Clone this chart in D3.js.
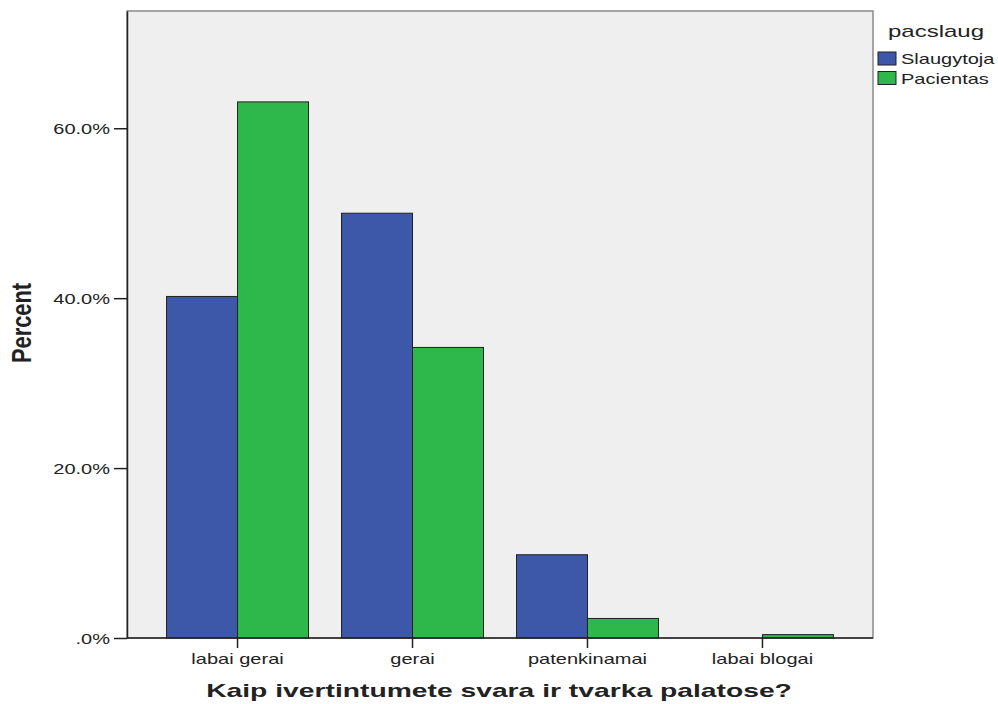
<!DOCTYPE html>
<html>
<head>
<meta charset="utf-8">
<script src="https://cdn.jsdelivr.net/npm/d3@7"></script>
<style>
  body { margin: 0; background: #fff; }
  text { font-family: "Liberation Sans", Arial, sans-serif; fill: #222; }
</style>
</head>
<body>
<div id="vis"></div>
<script>
const categories = ['labai gerai', 'gerai', 'patenkinamai', 'labai blogai'];
const groups = ['Slaugytoja', 'Pacientas'];
const slaugytoja = [40.2, 50.0, 9.8, 0];
const pacientas = [63.1, 34.2, 2.3, 0.4];
const yTicks = [0, 20, 40, 60];
const colors = ['#3d57a9', '#2eb74a'];

const W = 998, H = 704;
const plot = { left: 127, right: 873, top: 11, bottom: 638 };
const sx = 1.43; // text in the reference is stretched sideways

const data = categories.map((c, i) => ({ cat: c, values: [slaugytoja[i], pacientas[i]] }));

const svg = d3.select('#vis').append('svg')
    .attr('width', W)
    .attr('height', H);

const x0 = d3.scaleBand()
    .domain(categories)
    .range([plot.left, plot.right])
    .paddingInner(0.1886)
    .paddingOuter(0.226);

const x1 = d3.scaleBand()
    .domain(groups)
    .range([0, x0.bandwidth()]);

const y = d3.scaleLinear()
    .domain([0, 73.8])
    .range([plot.bottom, plot.top]);

// plot background + frame
svg.append('rect')
    .attr('x', plot.left).attr('y', plot.top)
    .attr('width', plot.right - plot.left)
    .attr('height', plot.bottom - plot.top)
    .attr('fill', '#efefef')
    .attr('stroke', '#8a8a8a')
    .attr('stroke-width', 1.5);

// bars
const g = svg.selectAll('.grp')
    .data(data)
    .enter().append('g')
    .attr('class', 'grp')
    .attr('transform', d => `translate(${x0(d.cat)},0)`);

g.selectAll('rect')
    .data(d => d.values.map((v, i) => ({ key: groups[i], v: v, i: i })).filter(d => d.v > 0))
    .enter().append('rect')
    .attr('x', d => x1(d.key))
    .attr('y', d => y(d.v))
    .attr('width', x1.bandwidth())
    .attr('height', d => y(0) - y(d.v))
    .attr('fill', d => colors[d.i])
    .attr('stroke', '#222')
    .attr('stroke-width', 1);

// y axis
const yAxis = svg.append('g')
    .attr('transform', `translate(${plot.left},0)`)
    .call(d3.axisLeft(y).tickValues(yTicks).tickSizeInner(13).tickSizeOuter(0)
        .tickFormat(d => d === 0 ? '.0%' : d.toFixed(1) + '%'));
yAxis.select('.domain').attr('stroke', '#222').attr('stroke-width', 1.5);
yAxis.selectAll('line').attr('stroke', '#222').attr('stroke-width', 1.5);
yAxis.selectAll('text')
    .attr('x', -17 / sx)
    .attr('dy', '0.36em')
    .attr('transform', `scale(${sx},1)`)
    .style('font-size', '14px')
    .style('font-family', '"Liberation Sans", Arial, sans-serif')
    .attr('fill', '#222');

// x axis
const xAxis = svg.append('g')
    .attr('transform', `translate(0,${plot.bottom})`)
    .call(d3.axisBottom(x0).tickSizeInner(10).tickSizeOuter(0));
xAxis.select('.domain').attr('stroke', '#222').attr('stroke-width', 1.5)
    .attr('d', `M${plot.left},0H${plot.right}`);
xAxis.selectAll('line').attr('stroke', '#222').attr('stroke-width', 1.5);
xAxis.selectAll('text')
    .attr('y', 26)
    .attr('dy', 0)
    .attr('transform', `scale(${sx},1)`)
    .style('font-size', '14px')
    .style('font-family', '"Liberation Sans", Arial, sans-serif')
    .attr('fill', '#222');

// axis titles
svg.append('text')
    .attr('transform', `translate(${(plot.left + plot.right) / 2 - 1},697) scale(1.57,1)`)
    .attr('text-anchor', 'middle')
    .style('font-size', '18px')
    .style('font-weight', 'bold')
    .text('Kaip ivertintumete svara ir tvarka palatose?');

svg.append('text')
    .attr('transform', `translate(31,323) rotate(-90) scale(1.15,1.5)`)
    .attr('text-anchor', 'middle')
    .style('font-size', '19px')
    .style('font-weight', 'bold')
    .text('Percent');

// legend
const legend = svg.append('g').attr('class', 'legend');
legend.append('text')
    .attr('transform', `translate(888,37) scale(1.5,1)`)
    .style('font-size', '16px')
    .text('pacslaug');

const item = legend.selectAll('.legend-item')
    .data(groups)
    .enter().append('g')
    .attr('class', 'legend-item')
    .attr('transform', (d, i) => `translate(878,${52 + i * 19.5})`);
item.append('rect')
    .attr('width', 18).attr('height', 13)
    .attr('fill', (d, i) => colors[i])
    .attr('stroke', '#222').attr('stroke-width', 1);
item.append('text')
    .attr('transform', `translate(23,12) scale(${sx},1)`)
    .style('font-size', '14px')
    .text(d => d);
</script>
</body>
</html>
